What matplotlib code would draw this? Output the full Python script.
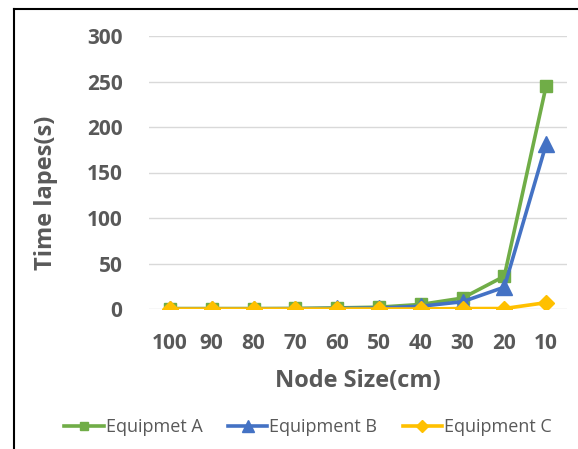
import matplotlib
matplotlib.use("Agg")
import matplotlib.pyplot as plt
from matplotlib.lines import Line2D

categories = ["100", "90", "80", "70", "60", "50", "40", "30", "20", "10"]
equip_a = [0.5, 0.5, 0.5, 0.6, 1.2, 2, 5, 12, 36, 245]
equip_b = [0.2, 0.2, 0.2, 0.3, 0.6, 1, 3, 8, 24, 181]
equip_c = [0, 0, 0, 0, 0, 0, 0, 0.5, 0.5, 7]
y_ticks = [0, 50, 100, 150, 200, 250, 300]

W, H = 578, 449
fig = plt.figure(figsize=(W / 100, H / 100), dpi=100)
ax = fig.add_axes([149 / W, 1 - 309 / H, (567 - 149) / W, (309 - 36) / H])

grey = "#595959"
x = list(range(len(categories)))
ax.plot(x, equip_a, color="#70AD47", lw=2.6, marker="s", ms=8.5, label="Equipmet A", zorder=3)
ax.plot(x, equip_b, color="#4472C4", lw=2.6, marker="^", ms=11, label="Equipment B", zorder=4)
ax.plot(x, equip_c, color="#FFC000", lw=2.6, marker="D", ms=8, label="Equipment C", zorder=5)

ax.set_xlim(-0.5, 9.5)
ax.set_ylim(0, 300)
ax.set_yticks(y_ticks)
ax.set_xticks(x)
ax.set_xticklabels(categories)
for s in ax.spines.values():
    s.set_visible(False)
ax.grid(axis="y", color="#D9D9D9", lw=1)
ax.set_axisbelow(True)
ax.tick_params(length=0, colors=grey, labelsize=15)
ax.tick_params(axis="y", pad=19)
ax.tick_params(axis="x", pad=17)
for lab in ax.get_xticklabels() + ax.get_yticklabels():
    lab.set_fontweight("bold")
    lab.set_fontfamily("Open Sans")

ax.set_xlabel("Node Size(cm)", fontsize=17, fontweight="bold", color=grey,
              fontfamily="Open Sans")
ax.set_ylabel("Time lapes(s)", fontsize=17, fontweight="bold", color=grey,
              fontfamily="Open Sans")
fig.canvas.draw()
ax.xaxis.set_label_coords(0.5 * (149 + 567) / W, 1 - 381 / H, transform=fig.transFigure)
ax.yaxis.set_label_coords(46 / W, 1 - 193 / H, transform=fig.transFigure)
ax.xaxis.label.set_va("center")
ax.yaxis.label.set_va("center")

leg = fig.legend(loc="center", bbox_to_anchor=(308 / W, 1 - 427 / H), ncol=3,
                 frameon=False, handlelength=2.2, columnspacing=1.4,
                 handletextpad=0.1, markerscale=0.75,
                 prop={"family": "Open Sans", "size": 13})
for t in leg.get_texts():
    t.set_color(grey)

fig.add_artist(Line2D([14 / W, 14 / W], [0, 1 - 9 / H], transform=fig.transFigure,
                      color="black", lw=1.5))
fig.add_artist(Line2D([14 / W, 1], [1 - 9 / H, 1 - 9 / H], transform=fig.transFigure,
                      color="black", lw=1.5))

fig.savefig("out.png", dpi=100)
